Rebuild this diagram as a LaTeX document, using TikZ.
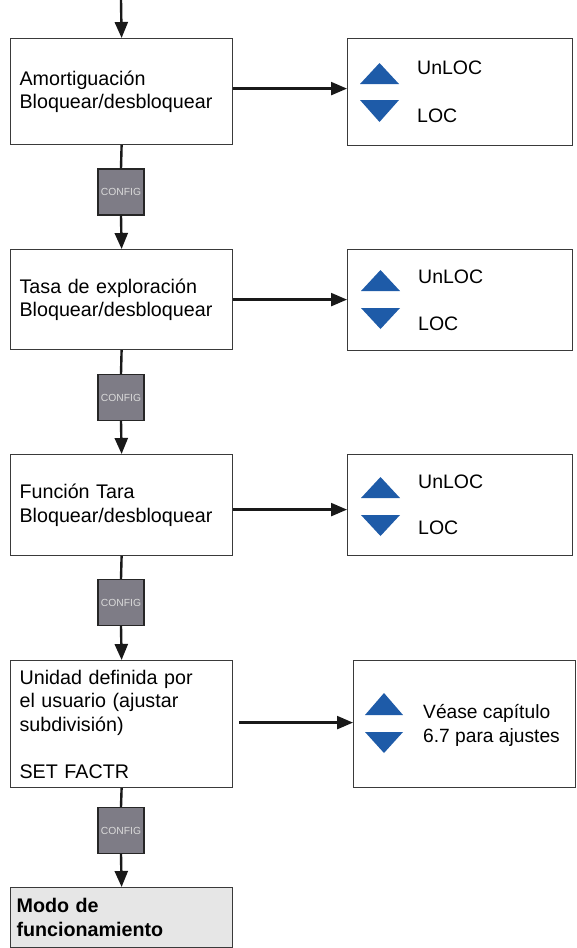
\documentclass[tikz,border=0pt]{standalone}
\usepackage{fontspec}
\setmainfont{Liberation Sans}
\usetikzlibrary{arrows.meta}
\definecolor{boxline}{HTML}{3A3A3A}
\definecolor{cfgfill}{HTML}{7E7C86}
\definecolor{cfgtext}{HTML}{DADADA}
\definecolor{triblue}{HTML}{1E5BA8}
\definecolor{endfill}{HTML}{E6E6E6}
\begin{document}
\begin{tikzpicture}[x=1pt,y=-1pt,
  stepbox/.style={draw=boxline, line width=1.2pt, fill=white, anchor=north west,
    minimum width=222pt, inner xsep=9pt, inner ysep=0pt, text width=204pt,
    align=left, font=\fontsize{19.7}{23.5}\selectfont},
  endbox/.style={stepbox, fill=endfill, font=\fontsize{19.7}{23.5}\selectfont\bfseries, inner xsep=6pt, text width=210pt},
  optbox/.style={draw=boxline, line width=1.2pt, anchor=north west, minimum width=225pt, inner sep=0pt},
  cfg/.style={draw=black!85, line width=1.2pt, fill=cfgfill, minimum size=46pt, inner sep=0pt,
    font=\fontsize{10.3}{11}\selectfont, text=cfgtext},
  flow/.style={line width=2.4pt, draw=black!90},
  arr/.style={flow, -{Triangle[width=13pt,length=16pt]}},
  tri/.style={fill=triblue},
  lbl/.style={anchor=west, inner sep=0pt, font=\fontsize{19.5}{23.5}\selectfont},
  note/.style={anchor=west, inner sep=0pt, align=left, font=\fontsize{19.2}{24}\selectfont}]
\useasboundingbox (0,0) rectangle (576,948);

% main column
\node[stepbox, minimum height=106pt] (l1) at (10,38) {Amortiguación\\Bloquear/desbloquear};
\node[stepbox, minimum height=100pt] (l2) at (10,249) {Tasa de exploración\\Bloquear/desbloquear};
\node[stepbox, minimum height=101pt] (l3) at (10,454) {Función Tara\\Bloquear/desbloquear};
\node[stepbox, minimum height=127pt] (l4) at (10,660) {Unidad definida por\\el usuario (ajustar\\subdivisión)\\[23.5pt]SET FACTR};
\node[endbox, minimum height=60pt] (l5) at (10,887) {Modo de\\funcionamiento};

% CONFIG keys between the steps
\node[cfg] (c1) at (121,192) {CONFIG};
\node[cfg] (c2) at (121,397.5) {CONFIG};
\node[cfg] (c3) at (121,602.5) {CONFIG};
\node[cfg] (c4) at (121,830.5) {CONFIG};

% option boxes
\node[optbox, minimum height=107pt] (r1) at (347,38) {};
\node[optbox, minimum height=101pt] (r2) at (347,249) {};
\node[optbox, minimum height=101pt] (r3) at (347,454) {};
\node[optbox, minimum width=222pt, minimum height=127pt] (r4) at (353,660) {};

% vertical flow
\coordinate (top) at (121,0);
\draw[arr] (top) -- (l1.north);
\foreach \a/\c/\b in {l1/c1/l2, l2/c2/l3, l3/c3/l4, l4/c4/l5} {
  \draw[flow] (\a.south) -- (\c.north);
  \draw[arr] (\c.south) -- (\b.north);
}

% horizontal flow
\coordinate (h1) at ([yshift=3pt]l1.east);
\coordinate (h2) at (l2.east);
\coordinate (h3) at ([yshift=-4.5pt]l3.east);
\coordinate (h4) at ([xshift=6pt,yshift=1.5pt]l4.east);
\draw[arr] (h1) -- (h1 -| r1.west);
\draw[arr] (h2) -- (h2 -| r2.west);
\draw[arr] (h3) -- (h3 -| r3.west);
\draw[arr] (h4) -- (h4 -| r4.west);

% up/down keys
\fill[tri] (360,84) -- (399,84) -- (379.5,63) -- cycle;
\fill[tri] (360,100) -- (399,100) -- (379.5,122) -- cycle;
\fill[tri] (361,291) -- (400,291) -- (380.5,270) -- cycle;
\fill[tri] (361,308) -- (400,308) -- (380.5,329) -- cycle;
\fill[tri] (361,498) -- (400,498) -- (380.5,477) -- cycle;
\fill[tri] (361,515) -- (400,515) -- (380.5,536) -- cycle;
\fill[tri] (365,715) -- (403,715) -- (384,693) -- cycle;
\fill[tri] (365,732) -- (403,732) -- (384,753) -- cycle;

\node[lbl] (u1) at (417,68) {UnLOC};
\node[lbl] (d1) at (417,116) {LOC};
\node[lbl] (u2) at (418,277) {UnLOC};
\node[lbl] (d2) at (418,324) {LOC};
\node[lbl] (u3) at (418,482) {UnLOC};
\node[lbl] (d3) at (418,528) {LOC};
\node[note] (n4) at (423,725) {Véase capítulo\\6.7 para ajustes};
\end{tikzpicture}
\end{document}
